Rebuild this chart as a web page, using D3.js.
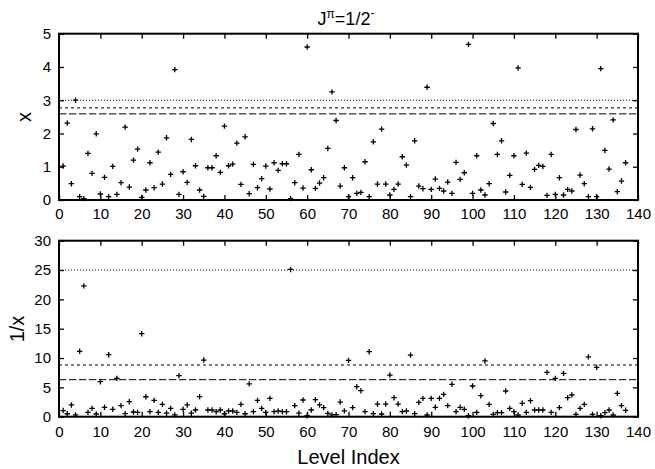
<!DOCTYPE html>
<html>
<head>
<meta charset="utf-8">
<script src="https://cdnjs.cloudflare.com/ajax/libs/d3/7.8.5/d3.min.js"></script>
<style>
body { margin: 0; background: #fff; }
svg { display: block; }
text { font-family: "Liberation Sans", Arial, sans-serif; fill: #000; }
</style>
</head>
<body>
<script>
// x for level index 1..137 (top panel)
var xVals = [1.02, 2.31, 0.49, 3.00, 0.10, 0.04, 1.40, 0.80, 1.99, 0.18,
  0.68, 0.10, 1.01, 0.17, 0.52, 2.19, 0.39, 1.20, 1.53, 0.08,
  0.30, 1.12, 0.37, 1.44, 0.48, 1.87, 0.77, 3.92, 0.17, 0.85,
  0.53, 1.82, 1.03, 0.30, 0.11, 0.97, 0.97, 1.33, 0.83, 2.22,
  1.03, 1.08, 1.71, 0.47, 1.90, 0.19, 1.07, 0.37, 0.64, 1.02,
  0.33, 1.12, 0.89, 1.09, 1.09, 0.04, 0.52, 1.37, 0.36, 4.60,
  0.91, 0.35, 0.51, 0.67, 1.55, 3.25, 2.39, 0.42, 0.97, 0.10,
  0.67, 0.20, 0.23, 1.15, 0.10, 1.75, 0.48, 2.13, 0.48, 0.15,
  0.32, 0.48, 1.30, 1.05, 0.10, 1.78, 0.42, 0.34, 3.39, 0.32,
  0.63, 0.35, 0.27, 0.54, 0.20, 1.13, 0.62, 0.82, 4.68, 0.20,
  1.33, 0.30, 0.15, 0.49, 2.30, 1.37, 1.78, 0.24, 0.74, 1.33,
  3.97, 0.47, 1.41, 0.38, 0.92, 1.04, 1.01, 0.14, 1.37, 0.17,
  0.67, 0.15, 0.32, 0.27, 2.12, 0.75, 0.49, 0.10, 2.14, 0.10,
  3.95, 1.49, 0.93, 2.41, 0.25, 0.57, 1.12]

// 1/x for the same levels (bottom panel)
var invVals = [1.05, 0.50, 2.00, 0.30, 11.15, 22.30, 0.74, 1.42, 0.46, 5.97,
  1.60, 10.57, 1.26, 6.54, 1.88, 0.52, 2.56, 0.80, 0.74, 14.15,
  3.40, 0.86, 2.79, 0.74, 2.10, 0.60, 1.42, 0.30, 7.00, 1.26,
  2.00, 0.60, 1.14, 3.41, 9.66, 1.14, 1.14, 0.85, 1.14, 0.50,
  0.97, 0.97, 0.74, 2.10, 0.50, 5.60, 0.86, 2.79, 1.42, 0.74,
  3.13, 0.85, 0.97, 0.85, 0.85, 25.10, 1.88, 0.60, 2.85, 0.17,
  1.14, 2.90, 2.00, 1.54, 0.57, 0.30, 0.35, 2.50, 1.00, 9.60,
  1.54, 5.11, 4.43, 0.86, 11.08, 0.51, 2.16, 0.46, 2.16, 7.10,
  3.24, 2.16, 0.86, 0.97, 10.50, 0.51, 2.45, 3.13, 0.29, 3.13,
  1.60, 3.13, 3.81, 1.88, 5.52, 0.86, 1.60, 1.26, 0.17, 5.23,
  0.74, 3.58, 9.50, 2.10, 0.40, 0.69, 0.69, 4.38, 1.42, 0.86,
  0.29, 2.28, 0.74, 2.73, 1.14, 1.14, 1.14, 7.56, 0.74, 6.54,
  1.54, 7.39, 3.24, 3.70, 0.40, 1.42, 2.10, 10.20, 0.40, 8.40,
  0.17, 0.69, 1.14, 0.29, 3.98, 1.88, 1.09]

// horizontal reference levels: dotted, short dash, long dash
var xLines = [3.00, 2.77, 2.59]
var invLines = [25, 8.81, 6.31]

var xTicks = [0, 10, 20, 30, 40, 50, 60, 70, 80, 90, 100, 110, 120, 130, 140]
var topTicks = [0, 1, 2, 3, 4, 5]
var bottomTicks = [0, 5, 10, 15, 20, 25, 30]

var w = 655,
    h = 469,
    left = 59,
    right = 638

var dashes = ["1,2", "3,3", "7.3,2.7"]

var svg = d3.select("body").append("svg")
            .attr("width", w)
            .attr("height", h)

var x = d3.scaleLinear().domain([0, 140]).range([left, right])
var fmt = d3.format("d")

function panel(vals, lines, yTicks, ymax, top, bottom, labelPad) {
  var y = d3.scaleLinear().domain([0, ymax]).range([bottom, top])
  var g = svg.append("g")

  // reference lines
  g.selectAll("line.ref").data(lines).enter().append("line")
    .attr("class", "ref")
    .attr("x1", left).attr("x2", right)
    .attr("y1", d => y(d)).attr("y2", d => y(d))
    .attr("stroke", "#000")
    .attr("stroke-width", 1)
    .attr("stroke-dasharray", (d, i) => dashes[i])

  // points drawn as +
  g.selectAll("path.pt").data(vals).enter().append("path")
    .attr("class", "pt")
    .attr("d", (d, i) => {
      var px = x(i + 1), py = y(d)
      return `M${px - 2.7},${py}h5.4M${px},${py - 2.7}v5.4`
    })
    .attr("stroke", "#000")
    .attr("stroke-width", 1.3)
    .attr("fill", "none")

  // axes, ticks pointing inward on all four sides
  var ax = [
    [d3.axisBottom(x).tickValues(xTicks).tickFormat(fmt).tickPadding(labelPad), bottom, 0],
    [d3.axisTop(x).tickValues(xTicks).tickFormat(""), top, 0],
    [d3.axisLeft(y).tickValues(yTicks).tickFormat(fmt).tickPadding(8), 0, left],
    [d3.axisRight(y).tickValues(yTicks).tickFormat(""), 0, right]
  ]
  ax.forEach(a => {
    var ag = g.append("g")
      .attr("transform", `translate(${a[2]},${a[1]})`)
      .call(a[0].tickSizeInner(-5).tickSizeOuter(0))
    ag.select(".domain").remove()
    ag.selectAll("line").attr("stroke-width", 1.3)
    ag.selectAll("text").attr("font-size", 15).attr("font-family", null)
  })

  g.append("rect")
    .attr("x", left).attr("y", top)
    .attr("width", right - left).attr("height", bottom - top)
    .attr("fill", "none")
    .attr("stroke", "#000")
    .attr("stroke-width", 2)
}

panel(xVals, xLines, topTicks, 5, 33.7, 200, 8.5)
panel(invVals, invLines, bottomTicks, 30, 240.7, 416.7, 9.5)

// title
var title = svg.append("text")
  .attr("x", 346).attr("y", 25)
  .attr("text-anchor", "middle")
  .attr("font-size", 18)
title.append("tspan").text("J")
title.append("tspan").text("\u03c0").attr("font-size", 12).attr("dy", -7)
title.append("tspan").text("=1/2").attr("dy", 7)
title.append("tspan").text("-").attr("font-size", 12).attr("dy", -8)

// axis labels
svg.append("text")
  .attr("transform", "translate(31,117) rotate(-90)")
  .attr("text-anchor", "middle")
  .attr("font-size", 20)
  .text("x")

svg.append("text")
  .attr("transform", "translate(23.5,329) rotate(-90)")
  .attr("text-anchor", "middle")
  .attr("font-size", 20)
  .text("1/x")

svg.append("text")
  .attr("x", 348.5).attr("y", 464)
  .attr("text-anchor", "middle")
  .attr("font-size", 20)
  .text("Level Index")
</script>
</body>
</html>
